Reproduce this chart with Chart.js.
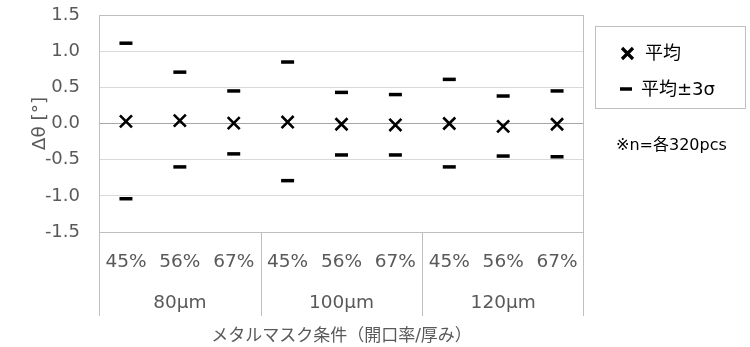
<!DOCTYPE html>
<html lang="ja">
<head>
<meta charset="utf-8">
<title>Δθ</title>
<script src="https://cdn.jsdelivr.net/npm/chart.js@4.4.1/dist/chart.umd.min.js"></script>
<style>
  html, body { margin: 0; padding: 0; background: #ffffff; }
  #wrap { width: 750px; height: 347px; }
</style>
</head>
<body>
<div id="wrap"><canvas id="thetaChart" width="750" height="347"></canvas></div>
<script>
// aperture ratio per category, grouped by mask thickness
const ratios = ["45%", "56%", "67%", "45%", "56%", "67%", "45%", "56%", "67%"];
const thicknesses = ["80μm", "100μm", "120μm"];

// Δθ [°] : mean and mean ±3σ
const meanVals = [0.03, 0.04, 0.005, 0.02, -0.01, -0.02, 0.0, -0.04, -0.01];
const upperVals = [1.11, 0.71, 0.45, 0.85, 0.43, 0.40, 0.61, 0.38, 0.45];
const lowerVals = [-1.04, -0.60, -0.42, -0.79, -0.435, -0.435, -0.60, -0.45, -0.46];

const yTicks = [-1.5, -1.0, -0.5, 0.0, 0.5, 1.0, 1.5];

const FONT = '"DejaVu Sans", "Noto Sans CJK JP", sans-serif';
const AXIS_GREY = "#595959";
const LINE_GREY = "#bfbfbf";

// plot frame, category table below the axis, legend box and note
const tablePlugin = {
  id: "tablePlugin",
  beforeDatasetsDraw(chart) {
    const { ctx, chartArea: a, scales: { x } } = chart;
    const tableBottom = 316;
    ctx.save();
    ctx.strokeStyle = LINE_GREY;
    ctx.lineWidth = 1;
    ctx.beginPath();
    ctx.moveTo(Math.round(a.left) + 0.5, a.top);
    ctx.lineTo(Math.round(a.left) + 0.5, tableBottom);
    ctx.moveTo(Math.round(a.right) - 0.5, a.top);
    ctx.lineTo(Math.round(a.right) - 0.5, tableBottom);
    // separators between thickness groups
    for (let i = 3; i < ratios.length; i += 3) {
      const sx = Math.round((x.getPixelForTick(i - 1) + x.getPixelForTick(i)) / 2) + 0.5;
      ctx.moveTo(sx, a.bottom);
      ctx.lineTo(sx, tableBottom);
    }
    ctx.stroke();

    ctx.fillStyle = AXIS_GREY;
    ctx.font = "18.5px " + FONT;
    ctx.textAlign = "center";
    ctx.textBaseline = "middle";
    thicknesses.forEach((t, g) => {
      ctx.fillText(t, x.getPixelForTick(g * 3 + 1), 303);
    });
    ctx.restore();
  },
  afterDraw(chart) {
    const { ctx } = chart;
    ctx.save();
    ctx.strokeStyle = LINE_GREY;
    ctx.lineWidth = 1;
    ctx.strokeRect(595.5, 26.5, 150, 82);

    ctx.strokeStyle = "#000000";
    ctx.lineWidth = 3.2;
    ctx.beginPath();
    ctx.moveTo(622, 48);
    ctx.lineTo(633, 59);
    ctx.moveTo(633, 48);
    ctx.lineTo(622, 59);
    ctx.stroke();
    ctx.lineWidth = 3.5;
    ctx.beginPath();
    ctx.moveTo(620, 89);
    ctx.lineTo(632, 89);
    ctx.stroke();

    ctx.fillStyle = "#000000";
    ctx.font = "18px " + FONT;
    ctx.textAlign = "left";
    ctx.textBaseline = "middle";
    ctx.fillText(chart.data.datasets[0].label, 645, 54);
    ctx.fillText(chart.data.datasets[1].label, 641, 90);
    ctx.font = "16px " + FONT;
    ctx.fillText("※n=各320pcs", 616, 146);
    ctx.restore();
  },
};

function initChart() {
  const ctx = document.getElementById("thetaChart");
  if (!ctx) return;

  new Chart(ctx, {
    type: "line",
    data: {
      labels: ratios,
      datasets: [
        {
          label: "平均",
          data: meanVals,
          showLine: false,
          pointStyle: "crossRot",
          pointRadius: 8.5,
          pointBorderWidth: 2.6,
          pointBorderColor: "#000000",
          pointBackgroundColor: "#000000",
        },
        {
          label: "平均±3σ",
          data: upperVals,
          showLine: false,
          pointStyle: "line",
          pointRadius: 6.5,
          pointBorderWidth: 3.5,
          pointBorderColor: "#000000",
        },
        {
          label: "平均±3σ",
          data: lowerVals,
          showLine: false,
          pointStyle: "line",
          pointRadius: 6.5,
          pointBorderWidth: 3.5,
          pointBorderColor: "#000000",
        },
      ],
    },
    options: {
      responsive: false,
      animation: false,
      events: [],
      layout: {
        padding: { top: 15, right: 166, bottom: 0, left: 0 },
      },
      scales: {
        x: {
          offset: true,
          grid: { display: false },
          border: { display: false },
          ticks: {
            color: AXIS_GREY,
            font: { family: FONT, size: 18.5 },
            padding: 11,
            maxRotation: 0,
            autoSkip: false,
          },
          title: {
            display: true,
            text: "メタルマスク条件（開口率/厚み）",
            color: AXIS_GREY,
            font: { family: FONT, size: 17 },
            padding: { top: 0, bottom: 0 },
          },
          afterFit(scale) {
            scale.height = 115;
          },
        },
        y: {
          min: -1.5,
          max: 1.5,
          afterBuildTicks(scale) {
            scale.ticks = yTicks.map((v) => ({ value: v }));
          },
          border: { display: false },
          grid: {
            drawTicks: false,
            color: function (context) {
              const v = context.tick.value;
              if (v === 0) return "#a6a6a6";
              if (v === 1.5 || v === -1.5) return LINE_GREY;
              return "#d9d9d9";
            },
          },
          ticks: {
            color: AXIS_GREY,
            font: { family: FONT, size: 18 },
            padding: 19,
            callback: (v) => Number(v).toFixed(1),
          },
          title: {
            display: true,
            text: "Δθ [°]",
            color: AXIS_GREY,
            font: { family: FONT, size: 18.5 },
            padding: { top: 29, bottom: 0 },
          },
          afterFit(scale) {
            scale.width = 99;
            // labels overhang the top edge; keep the plot top at the layout padding
            scale.paddingTop = 0;
            scale.paddingBottom = 0;
          },
        },
      },
      plugins: {
        legend: { display: false },
        tooltip: { enabled: false },
      },
    },
    plugins: [tablePlugin],
  });
}

document.addEventListener("DOMContentLoaded", initChart);
</script>
</body>
</html>
